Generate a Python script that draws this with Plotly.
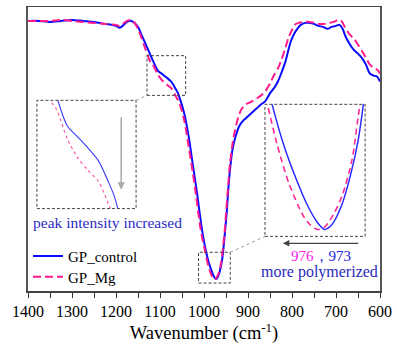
import plotly.graph_objects as go

# ---------------- data ----------------
wn_control = [1400, 1375, 1350, 1325, 1300, 1275, 1250, 1225, 1210, 1200, 1192, 1185, 1175, 1165, 1158,
              1150, 1143, 1135, 1125, 1115, 1105, 1095, 1085, 1075, 1065, 1060, 1055, 1045, 1035, 1025,
              1015, 1010, 1005, 1000, 995, 990, 985, 980, 976, 973, 970, 966, 962, 959, 956, 952, 948,
              945, 940, 935, 928, 920, 910, 900, 890, 880, 870, 861, 850, 840, 832, 823, 815, 808, 803,
              795, 788, 780, 770, 758, 750, 740, 730, 719, 710, 700, 692, 685, 678, 668, 660, 650, 640,
              632, 623, 615, 607, 600]
T_control = [272, 272, 271, 272, 273, 272, 271, 269, 268, 267, 265, 267, 271, 272, 270,
             266, 259, 251, 241, 231, 222, 218.5, 215, 211, 204, 200, 194, 179, 156, 126,
             96, 79, 63, 50, 39, 30, 23, 17, 13.5, 12, 13, 17, 24, 31, 42, 61, 81,
             101, 126, 143, 156, 166, 172, 176, 180, 184, 188, 191, 199, 205, 211, 221, 231, 243, 251,
             259, 264, 268, 270, 270, 269, 267, 266, 264, 266, 267, 268, 264, 256, 248, 243, 239, 234,
             228, 219, 217, 216, 211]

wn_mg = [1400, 1375, 1350, 1325, 1300, 1275, 1250, 1225, 1200, 1192, 1185, 1175, 1165, 1158, 1150,
         1143, 1135, 1125, 1121, 1115, 1105, 1095, 1085, 1075, 1065, 1055, 1045, 1035, 1025, 1018,
         1013, 1008, 1003, 997, 993, 988, 982, 979, 976, 973, 969, 965.5, 961.5, 959, 956, 953, 950,
         946, 941, 936, 930, 922, 915, 905, 895, 880, 870, 861, 850, 840, 832, 823, 815, 808, 800,
         794, 785, 771, 760, 750, 740, 726, 715, 705, 695, 688, 680, 670, 659, 650, 640, 632, 623,
         615, 607, 600]
T_mg = [272, 272, 272, 273, 272, 271, 270, 269, 268, 267, 269, 272, 273, 270, 264,
        256, 246, 234, 230, 227, 218, 212, 208, 204.5, 197, 188, 172, 146, 118, 96,
        79, 63, 51, 39, 30.5, 22, 15, 13, 12, 12.5, 15.5, 19.5, 27, 36, 47, 60, 78,
        101, 128, 146, 161, 175, 183, 188, 190, 194, 197, 201, 209, 218, 224, 234, 245, 255, 263,
        268, 270, 271, 271, 270, 269, 269, 270, 271, 273, 272, 266, 259, 254, 248, 241, 235, 228,
        225, 223, 219]

assert len(wn_control) == len(T_control)
assert len(wn_mg) == len(T_mg)

names = ["GP_control", "GP_Mg"]
x_ticks = [1400, 1300, 1200, 1100, 1000, 900, 800, 700, 600]

# ---------------- styling / layout helpers ----------------
W, H = 397, 345
L, R, T, B = 28, 383, 5, 291          # plot area in pixels
SERIF = "Liberation Serif"
BLUE = "#0a0aff"
PINK = "#ff1a8c"


def fx(px):
    return (px - L) / (R - L)


def fy(py):
    return (B - py) / (B - T)


fig = go.Figure()

# main curves
fig.add_trace(go.Scatter(x=wn_control, y=T_control, name=names[0], mode="lines", legend="legend",
                         line=dict(color=BLUE, width=2, shape="spline", smoothing=0.8)))
fig.add_trace(go.Scatter(x=wn_mg, y=T_mg, name=names[1], mode="lines", legend="legend2",
                         line=dict(color=PINK, width=2, dash="8px,4px", shape="spline", smoothing=0.8)))

# left inset (shoulder region)
fig.add_trace(go.Scatter(x=wn_control, y=T_control, mode="lines", showlegend=False, xaxis="x2", yaxis="y2",
                         line=dict(color="#3a3aff", width=1.1, shape="spline", smoothing=0.8)))
fig.add_trace(go.Scatter(x=wn_mg, y=T_mg, mode="lines", showlegend=False, xaxis="x2", yaxis="y2",
                         line=dict(color="#ff4da6", width=1.1, dash="3px,3px", shape="spline", smoothing=0.8)))

# right inset (main band minimum)
fig.add_trace(go.Scatter(x=wn_control, y=T_control, mode="lines", showlegend=False, xaxis="x3", yaxis="y3",
                         line=dict(color="#2a2aff", width=1.5, shape="spline", smoothing=0.8)))
fig.add_trace(go.Scatter(x=wn_mg, y=T_mg, mode="lines", showlegend=False, xaxis="x3", yaxis="y3",
                         line=dict(color="#ff2a95", width=1.6, dash="6px,4px", shape="spline", smoothing=0.8)))

inset_hidden = dict(visible=False, fixedrange=True)
legend_common = dict(xanchor="left", yanchor="middle", bgcolor="rgba(0,0,0,0)",
                     font=dict(size=15, family=SERIF, color="black"))
fig.update_layout(
    width=W, height=H,
    margin=dict(l=L, r=W - R, t=T, b=H - B),
    paper_bgcolor="white", plot_bgcolor="white",
    font=dict(family=SERIF, color="black"),
    showlegend=True,
    legend=dict(x=fx(28), y=fy(256), **legend_common),
    legend2=dict(x=fx(28), y=fy(277), **legend_common),
    xaxis=dict(range=[1400, 600], tickvals=x_ticks, ticks="outside", ticklen=5, tickwidth=1,
               tickcolor="#333", showline=True, mirror=True, linecolor="#444", linewidth=1.5,
               showgrid=False, zeroline=False, fixedrange=True,
               minor=dict(dtick=50, ticks="outside", ticklen=5, tickcolor="#333", showgrid=False),
               tickfont=dict(size=16, family=SERIF),
               title=dict(text="Wavenumber (cm<sup>-1</sup>)", font=dict(size=18.5, family=SERIF), standoff=3)),
    yaxis=dict(range=[0, 286], showticklabels=False, ticks="", showline=True, mirror=True, fixedrange=True,
               linecolor="#555", linewidth=2, showgrid=False, zeroline=False),
    xaxis2=dict(domain=[fx(37), fx(137)], range=[1134, 1039], anchor="y2", **inset_hidden),
    yaxis2=dict(domain=[fy(208), fy(99)], range=[196, 230], anchor="x2", **inset_hidden),
    xaxis3=dict(domain=[fx(267), fx(368)], range=[998, 956], anchor="y3", **inset_hidden),
    yaxis3=dict(domain=[fy(236), fy(103)], range=[10.5, 39], anchor="x3", **inset_hidden),
)

box_line = dict(color="#444", width=1, dash="3px,2px")
shapes = [
    # inset frames
    dict(type="rect", xref="paper", yref="paper", x0=fx(37), x1=fx(137), y0=fy(208), y1=fy(99), line=box_line),
    dict(type="rect", xref="paper", yref="paper", x0=fx(267), x1=fx(368), y0=fy(236), y1=fy(103), line=box_line),
    # zoom windows on the main spectrum
    dict(type="rect", xref="x", yref="y", x0=1129.6, x1=1041.7, y0=197, y1=237, line=box_line),
    dict(type="rect", xref="x", yref="y", x0=1012.4, x1=940.3, y0=8, y1=39, line=box_line),
    # connectors
    dict(type="line", xref="paper", yref="paper", x0=fx(137), y0=fy(99), x1=fx(148), y1=fy(94),
         line=dict(color="#999", width=1, dash="dot")),
    dict(type="line", xref="paper", yref="paper", x0=fx(232), y0=fy(252), x1=fx(267), y1=fy(236),
         line=dict(color="#999", width=1, dash="dot")),
]
fig.update_layout(shapes=shapes)

annotations = [
    # arrows
    dict(xref="paper", yref="paper", x=fx(122), y=fy(189), ax=0, ay=-74, text="", showarrow=True,
         arrowhead=2, arrowsize=1, arrowwidth=1.5, arrowcolor="#aaaaaa"),
    dict(xref="paper", yref="paper", x=fx(285), y=fy(243), ax=77, ay=0, text="", showarrow=True,
         arrowhead=2, arrowsize=1, arrowwidth=1.3, arrowcolor="#444"),
    # texts
    dict(xref="paper", yref="paper", x=fx(108), y=fy(222), text="peak intensity increased",
         showarrow=False, font=dict(size=15.5, family=SERIF, color="#2b2bc4"), xanchor="center", yanchor="middle"),
    dict(xref="paper", yref="paper", x=fx(323), y=fy(256),
         text="<span style='color:#ff22ee'>976</span><span style='color:#2424d8'>，973</span>",
         showarrow=False, font=dict(size=15, family=SERIF), xanchor="center", yanchor="middle"),
    dict(xref="paper", yref="paper", x=fx(322), y=fy(272), text="more polymerized",
         showarrow=False, font=dict(size=16, family=SERIF, color="#2a2ab8"), xanchor="center", yanchor="middle"),
]
fig.update_layout(annotations=annotations)

fig.write_html("out.html", config={"displayModeBar": False, "staticPlot": True},
               post_script="document.body.style.margin='0px';document.body.style.overflow='hidden';")
